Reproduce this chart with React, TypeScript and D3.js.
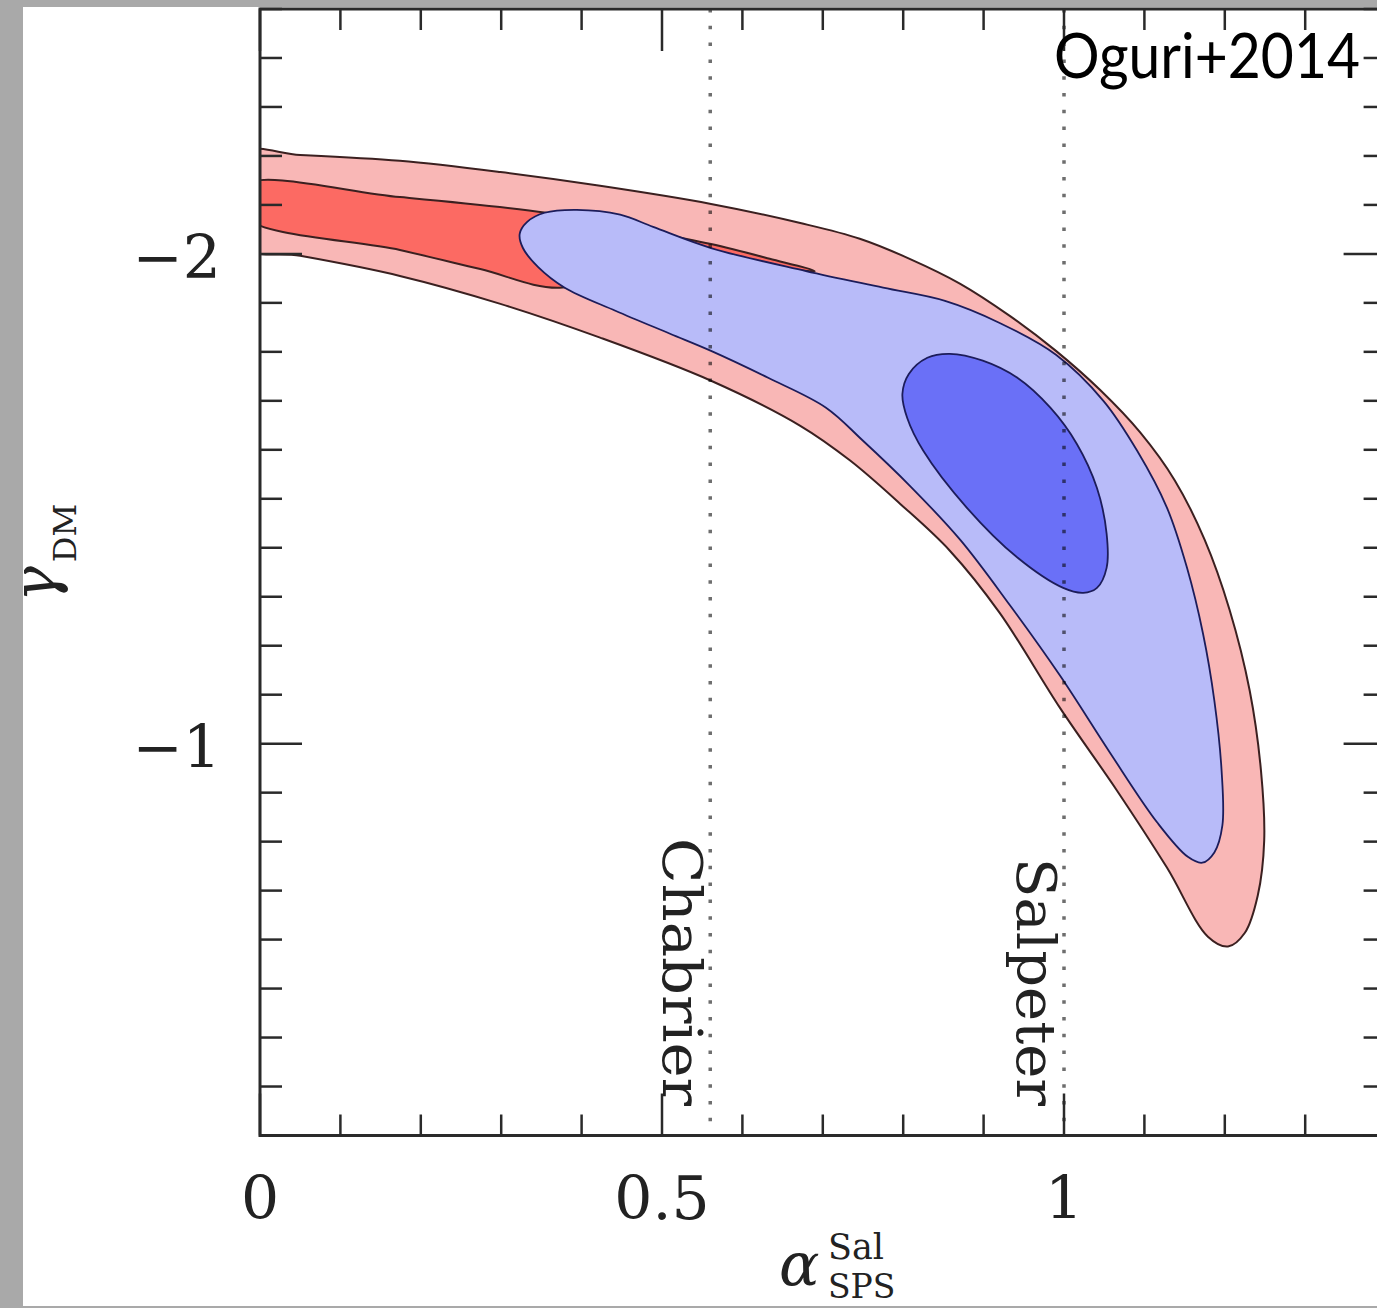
import React from 'react';
import * as d3 from 'd3';

// contour outlines, [alpha_SPS, gamma_DM]
const redOuter: [number, number][] = [
  [-0.019, -2.206], [0.05, -2.202], [0.174, -2.19], [0.299, -2.167], [0.423, -2.139],
  [0.561, -2.102], [0.672, -2.063], [0.746, -2.031], [0.808, -1.99], [0.871, -1.939],
  [0.933, -1.873], [0.99, -1.802], [1.045, -1.722], [1.095, -1.635], [1.138, -1.537],
  [1.175, -1.416], [1.206, -1.273], [1.231, -1.108], [1.245, -0.945], [1.249, -0.802],
  [1.241, -0.69], [1.225, -0.614], [1.204, -0.586], [1.179, -0.606], [1.128, -0.747],
  [1.066, -0.904], [0.995, -1.073], [0.92, -1.267], [0.858, -1.394], [0.796, -1.49],
  [0.734, -1.578], [0.672, -1.649], [0.561, -1.741], [0.423, -1.829], [0.299, -1.898],
  [0.174, -1.955], [0.05, -1.996], [-0.019, -2.014],
];

const redInner: [number, number][] = [
  [-0.019, -2.141], [0.174, -2.116], [0.356, -2.084], [0.473, -2.049], [0.561, -2.02],
  [0.634, -1.99], [0.69, -1.965], [0.634, -1.973], [0.561, -1.994], [0.473, -1.982],
  [0.373, -1.931], [0.274, -1.969], [0.174, -2.008], [-0.019, -2.076],
];

const blueOuter: [number, number][] = [
  [0.327, -2.012], [0.323, -2.041], [0.332, -2.065], [0.354, -2.084], [0.394, -2.09],
  [0.448, -2.08], [0.489, -2.055], [0.561, -2.012], [0.679, -1.965], [0.775, -1.931],
  [0.852, -1.904], [0.92, -1.859], [0.99, -1.794], [1.049, -1.7], [1.091, -1.598],
  [1.128, -1.482], [1.153, -1.359], [1.173, -1.224], [1.187, -1.088], [1.196, -0.945],
  [1.197, -0.833], [1.187, -0.778], [1.172, -0.757], [1.154, -0.769], [1.116, -0.839],
  [1.057, -0.982], [0.995, -1.139], [0.933, -1.282], [0.871, -1.416], [0.808, -1.527],
  [0.749, -1.62], [0.704, -1.686], [0.632, -1.747], [0.561, -1.802], [0.51, -1.837],
  [0.442, -1.884], [0.379, -1.931], [0.346, -1.973],
];

const blueInner: [number, number][] = [
  [0.799, -1.714], [0.807, -1.755], [0.83, -1.788], [0.858, -1.796], [0.899, -1.782],
  [0.942, -1.747], [0.983, -1.686], [1.016, -1.612], [1.041, -1.522], [1.053, -1.429],
  [1.053, -1.359], [1.041, -1.318], [1.024, -1.308], [0.999, -1.318], [0.942, -1.38],
  [0.879, -1.482], [0.825, -1.598], [0.805, -1.665],
];

const imfNames = ['Chabrier', 'Salpeter'];
const imfAlpha = [0.56, 1.0];

const xTickValues = [0, 0.5, 1];
const xTickLabels = ['0', '0.5', '1'];
const yTickValues = [-2, -1];
const yTickLabels = ['\u22122', '\u22121'];

const W = 1377;
const H = 1308;

const x = d3.scaleLinear().domain([0, 1.4]).range([260, 1385.6]);
const y = d3.scaleLinear().domain([-2.5, -0.2]).range([9, 1135.5]);

const contour = d3.line<[number, number]>()
  .x(d => x(d[0]))
  .y(d => y(d[1]))
  .curve(d3.curveCatmullRomClosed.alpha(0.5));

const serif = 'DejaVu Serif';

export default function App() {
  const [x0, x1] = x.range();
  const [y0, y1] = y.range();
  const minorX = d3.range(0, 14.5).map(i => i / 10);
  const minorY = d3.range(-25, -1.5).map(i => i / 10);
  const axisColor = '#2a2a2a';

  return (
    <svg width={W} height={H} style={{ position: 'absolute', left: 0, top: 0 }}>
      <defs>
        <clipPath id="plot">
          <rect x={x0} y={y0} width={x1 - x0} height={y1 - y0} />
        </clipPath>
      </defs>
      <rect width={W} height={H} fill="#a9a9a9" />
      <rect x={23} y={7} width={W - 23} height={1299} fill="#fff" />

      <g clipPath="url(#plot)">
        <path d={contour(redOuter) || ''} fill="#f9b7b6" stroke="#3b2020" strokeWidth={2} />
        <path d={contour(redInner) || ''} fill="#fc6a63" stroke="#3b2020" strokeWidth={2} />
        <path d={contour(blueOuter) || ''} fill="#b8bbf9" stroke="#1c1c5a" strokeWidth={1.8} />
        <path d={contour(blueInner) || ''} fill="#6a70f7" stroke="#1c1c5a" strokeWidth={1.8} />
        {imfAlpha.map((a, i) => (
          <line key={i} x1={x(a)} x2={x(a)} y1={y0} y2={y1}
            stroke="#6e6e6e" strokeWidth={3.5} strokeDasharray="3.5 13.3"
            style={{ mixBlendMode: 'multiply' }} />
        ))}
      </g>

      {imfAlpha.map((a, i) => (
        <text key={i} transform={`translate(${x(a) - 47},1106) rotate(90)`}
          textAnchor="end" fontFamily={serif} fontSize={55} fill="#222"
          textLength={i === 0 ? 268 : 248} lengthAdjust="spacingAndGlyphs">
          {imfNames[i]}
        </text>
      ))}

      {/* frame */}
      <rect x={x0} y={y0} width={x1 - x0} height={y1 - y0} fill="none" stroke={axisColor} strokeWidth={3} />

      {minorX.map((v, i) => {
        const major = xTickValues.some(t => Math.abs(t - v) < 1e-6);
        const len = major ? 42 : 21;
        return (
          <g key={i} stroke={axisColor} strokeWidth={2.5}>
            <line x1={x(v)} x2={x(v)} y1={y1} y2={y1 - len} />
            <line x1={x(v)} x2={x(v)} y1={y0} y2={y0 + len} />
          </g>
        );
      })}
      {minorY.map((v, i) => {
        const major = yTickValues.some(t => Math.abs(t - v) < 1e-6);
        const len = major ? 42 : 22;
        return (
          <g key={i} stroke={axisColor} strokeWidth={2.5}>
            <line x1={x0} x2={x0 + len} y1={y(v)} y2={y(v)} />
            <line x1={x1} x2={x1 - len} y1={y(v)} y2={y(v)} />
          </g>
        );
      })}

      {xTickValues.map((v, i) => (
        <text key={i} x={x(v)} y={1219} textAnchor="middle" fontFamily={serif} fontSize={60} fill="#222">
          {xTickLabels[i]}
        </text>
      ))}
      {yTickValues.map((v, i) => (
        <text key={i} x={221} y={y(v) + 24} textAnchor="end" fontFamily={serif} fontSize={60} fill="#222">
          {yTickLabels[i]}
        </text>
      ))}

      {/* y label */}
      <text transform="translate(56,602) rotate(-90)" fontFamily={serif} fill="#222">
        <tspan fontSize={60} fontStyle="italic">γ</tspan>
        <tspan fontSize={32} dy={20} dx={4}>DM</tspan>
      </text>

      {/* x label */}
      <text x={779} y={1285} fontFamily={serif} fontSize={60} fontStyle="italic" fill="#222">α</text>
      <text x={828} y={1259} fontFamily={serif} fontSize={35} fill="#222">Sal</text>
      <text x={828} y={1298} fontFamily={serif} fontSize={33} fill="#222">SPS</text>

      <text x={1054} y={78} fontFamily="Lato" fontSize={62} fill="#000"
        textLength={306} lengthAdjust="spacingAndGlyphs">Oguri+2014</text>
    </svg>
  );
}
